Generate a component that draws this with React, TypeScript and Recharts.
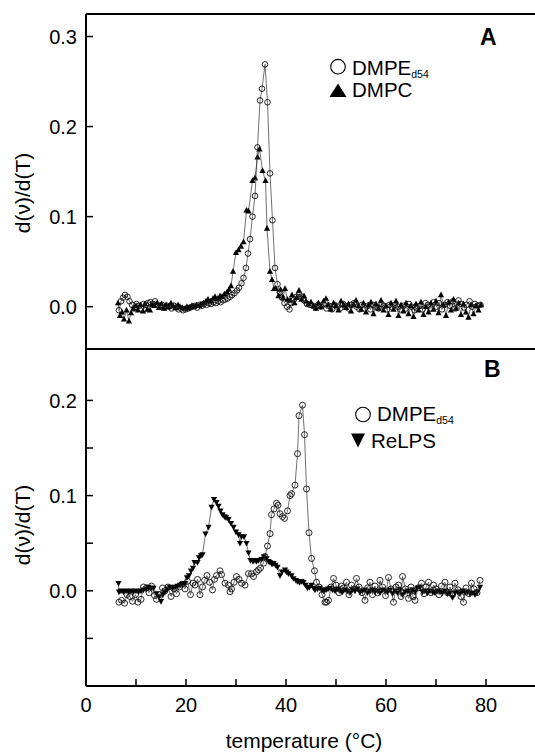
import React from 'react';
import { ScatterChart, Scatter, XAxis, YAxis } from 'recharts';

// temperature (°C), d(v)/d(T)
const dmpeA: [number, number][] = [
  [6.6,-0.004],[7.0,0.006],[7.4,0.010],[7.8,0.013],[8.3,0.011],[8.7,0.006],[9.2,0.002],[9.6,-0.002],[10.1,0.003],[10.6,0.001],
  [11.0,-0.002],[11.5,0.003],[12.0,0.002],[12.4,0.004],[12.9,0.005],[13.4,0.003],[13.8,0.006],[14.3,0.002],[14.8,0.000],[15.2,0.002],
  [15.7,-0.001],[16.2,0.001],[16.6,0.000],[17.1,-0.002],[17.6,0.001],[18.0,-0.001],[18.5,-0.003],[19.0,-0.002],[19.4,-0.004],[19.9,-0.003],
  [20.4,-0.002],[20.8,-0.001],[21.3,0.000],[21.8,0.001],[22.2,-0.001],[22.7,0.002],[23.2,0.001],[23.6,0.003],[24.1,0.002],[24.6,0.004],
  [25.0,0.003],[25.5,0.005],[26.0,0.004],[26.4,0.006],[26.9,0.005],[27.4,0.007],[27.8,0.008],[28.3,0.009],[28.8,0.011],[29.2,0.013],
  [29.7,0.015],[30.2,0.018],[30.6,0.021],[31.1,0.026],[31.5,0.032],[32.0,0.043],[32.4,0.059],[32.8,0.075],[33.3,0.100],[33.8,0.123],
  [34.3,0.177],[34.8,0.229],[35.2,0.242],[35.8,0.269],[36.3,0.227],[36.8,0.148],[37.3,0.096],[37.8,0.043],[38.3,0.025],[38.8,0.016],
  [39.2,0.010],[39.7,0.004],[40.2,0.000],[40.7,-0.003],[41.1,0.004],[41.6,0.008],[42.1,0.011],[42.6,0.014],[43.1,0.011],[43.6,0.007],
  [44.2,0.003],[44.8,0.002],[45.3,0.001],[45.9,-0.001],[46.4,0.002],[47.0,0.000],[47.5,0.003],[48.1,-0.002],[48.6,0.001],[49.2,-0.003],
  [49.7,0.002],[50.3,0.000],[50.8,-0.002],[51.4,0.003],[51.9,0.001],[52.5,-0.002],[53.0,0.002],[53.6,0.004],[54.1,0.000],[54.7,-0.003],
  [55.2,0.002],[55.8,-0.002],[56.3,0.001],[56.9,-0.003],[57.4,0.002],[58.0,0.000],[58.5,-0.002],[59.1,0.003],[59.6,0.001],[60.2,-0.003],
  [60.7,0.002],[61.3,-0.001],[61.8,0.002],[62.4,0.000],[62.9,-0.003],[63.5,0.001],[64.0,-0.002],[64.6,0.003],[65.1,0.000],[65.7,-0.004],
  [66.2,-0.002],[66.8,0.001],[67.3,-0.003],[67.9,0.004],[68.4,0.002],[69.0,-0.002],[69.5,0.005],[70.1,0.000],[70.6,0.004],[71.2,-0.003],
  [71.7,0.002],[72.3,0.005],[72.8,0.001],[73.4,0.006],[73.9,-0.002],[74.5,0.007],[75.0,0.003],[75.6,-0.001],[76.1,0.002],[76.7,0.006],
  [77.2,0.000],[77.8,0.003],[78.3,0.001],[78.9,0.002],
];

const dmpcA: [number, number][] = [
  [6.4,0.004],[6.8,-0.010],[7.2,-0.006],[7.6,-0.014],[8.1,-0.004],[8.6,-0.016],[9.0,-0.007],[9.5,-0.002],[10.0,0.001],[10.4,-0.004],
  [10.9,0.002],[11.4,-0.005],[11.8,0.003],[12.3,-0.003],[12.8,-0.004],[13.2,0.002],[13.7,0.001],[14.2,0.004],[14.6,-0.001],[15.1,0.003],
  [15.6,-0.002],[16.0,0.002],[16.5,0.000],[17.0,0.004],[17.4,0.001],[17.9,-0.001],[18.4,0.002],[18.8,0.000],[19.3,-0.001],[19.8,-0.002],
  [20.2,0.000],[20.7,-0.001],[21.2,0.001],[21.6,0.000],[22.1,0.002],[22.6,0.001],[23.0,0.003],[23.5,0.004],[24.0,0.006],[24.4,0.008],
  [24.9,0.006],[25.4,0.009],[25.8,0.011],[26.3,0.009],[26.8,0.012],[27.2,0.011],[27.7,0.014],[28.2,0.016],[28.6,0.019],[29.0,0.023],
  [29.4,0.039],[30.0,0.060],[30.5,0.063],[31.0,0.067],[31.5,0.072],[32.1,0.107],[32.5,0.106],[33.3,0.140],[33.8,0.143],[34.3,0.166],
  [34.7,0.175],[35.3,0.151],[35.9,0.140],[36.2,0.087],[36.8,0.039],[37.2,0.030],[37.6,0.020],[38.0,0.020],[38.5,0.012],[38.9,0.019],
  [39.4,0.010],[39.8,0.020],[40.3,0.008],[40.8,0.007],[41.2,0.013],[41.7,0.004],[42.1,0.010],[42.6,0.018],[43.1,0.008],[43.6,0.012],
  [44.0,0.006],[44.5,0.003],[45.0,0.005],[45.5,0.001],[46.0,-0.002],[46.5,0.004],[47.0,0.000],[47.5,0.006],[48.0,0.009],[48.5,0.002],
  [49.0,-0.003],[49.5,0.004],[50.0,0.001],[50.5,-0.004],[51.0,0.006],[51.5,0.002],[52.0,-0.001],[52.5,0.003],[53.0,-0.005],[53.5,0.002],
  [54.0,0.007],[54.5,0.001],[55.0,-0.003],[55.5,0.004],[56.0,-0.006],[56.5,0.002],[57.0,0.005],[57.5,-0.008],[58.0,0.003],[58.5,-0.002],
  [59.0,0.007],[59.5,-0.004],[60.0,0.001],[60.5,-0.009],[61.0,0.004],[61.5,-0.003],[62.0,0.006],[62.5,-0.010],[63.0,0.002],[63.5,-0.005],
  [64.0,0.004],[64.5,-0.008],[65.0,0.001],[65.5,-0.011],[66.0,0.003],[66.5,-0.004],[67.0,0.005],[67.5,-0.009],[68.0,0.000],[68.5,-0.006],
  [69.0,0.004],[69.5,-0.003],[70.0,0.006],[70.5,-0.007],[71.0,0.013],[71.5,0.002],[72.0,-0.010],[72.5,0.005],[73.0,-0.004],[73.5,0.008],
  [74.0,-0.002],[74.5,0.004],[75.0,-0.009],[75.5,0.003],[76.0,-0.006],[76.5,-0.012],[77.0,0.002],[77.5,-0.008],[78.0,0.001],[78.5,-0.004],
  [79.0,0.002],
];

const dmpeB: [number, number][] = [
  [6.6,-0.012],[7.1,-0.010],[7.7,-0.013],[8.2,-0.004],[8.8,-0.006],[9.3,-0.011],[9.9,-0.004],[10.4,-0.012],[11.0,-0.009],[11.5,0.004],
  [12.1,0.003],[12.6,-0.002],[13.1,0.005],[13.7,-0.005],[14.1,-0.009],[14.7,-0.004],[15.3,0.003],[15.8,0.000],[16.4,0.004],[17.0,-0.006],
  [17.6,0.002],[18.1,-0.003],[18.7,0.004],[19.2,0.007],[19.8,0.002],[20.3,0.010],[20.9,-0.004],[21.4,0.008],[21.8,0.006],[22.3,0.012],
  [22.8,-0.004],[23.3,0.004],[23.7,0.011],[24.2,0.016],[24.7,0.009],[25.3,0.001],[25.7,0.012],[26.1,0.016],[26.8,0.021],[27.1,0.017],
  [27.8,0.008],[28.5,0.006],[28.8,-0.001],[29.1,0.002],[29.6,0.009],[30.1,0.015],[30.6,0.012],[31.1,0.008],[31.8,0.006],[32.5,0.018],
  [33.1,0.018],[33.5,0.015],[34.1,0.020],[34.5,0.022],[34.9,0.024],[35.5,0.029],[35.8,0.036],[36.3,0.047],[36.8,0.060],[37.1,0.080],
  [37.6,0.086],[38.1,0.092],[38.4,0.090],[38.8,0.081],[39.3,0.078],[39.7,0.076],[40.3,0.084],[40.8,0.100],[41.1,0.102],[41.8,0.111],
  [42.3,0.144],[42.6,0.184],[43.3,0.195],[43.7,0.164],[44.1,0.107],[44.6,0.061],[45.1,0.034],[45.7,0.021],[46.1,0.009],[46.6,0.004],
  [47.2,-0.004],[47.8,-0.012],[48.1,-0.012],[48.5,-0.010],[49.0,0.004],[49.5,0.013],[50.0,0.006],[50.6,-0.002],[51.1,0.005],[51.5,0.003],
  [52.1,0.009],[52.6,-0.004],[53.1,0.006],[53.6,0.002],[54.1,0.013],[54.6,0.004],[55.2,-0.002],[55.8,-0.010],[56.3,0.003],[56.8,0.009],
  [57.3,-0.004],[57.8,0.005],[58.3,-0.002],[58.8,0.011],[59.3,0.004],[59.9,-0.005],[60.5,0.014],[61.0,0.002],[61.5,-0.012],[62.0,0.004],
  [62.5,0.006],[63.0,-0.006],[63.3,0.015],[63.9,0.002],[64.5,-0.008],[65.0,0.004],[65.4,-0.006],[65.8,-0.010],[66.4,0.003],[67.1,0.008],
  [67.6,-0.003],[68.0,0.004],[68.5,0.009],[69.0,-0.002],[69.5,0.006],[70.0,0.002],[70.6,-0.004],[71.1,0.005],[71.8,0.009],[72.3,-0.002],
  [72.8,0.004],[73.3,-0.004],[73.8,0.008],[74.4,0.001],[75.0,-0.006],[75.5,-0.012],[76.0,0.003],[76.6,-0.003],[77.1,0.008],[77.6,0.002],
  [78.2,-0.002],[78.8,0.011],
];

const reLPS: [number, number][] = [
  [6.5,0.008],[6.6,-0.001],[7.0,0.000],[7.5,-0.001],[8.0,0.000],[8.5,-0.001],[9.0,0.000],[9.5,-0.001],[10.0,0.000],[10.5,-0.001],
  [11.0,0.000],[11.5,0.001],[12.0,0.002],[12.5,0.004],[13.0,0.003],[13.5,0.003],[14.1,-0.003],[14.6,-0.006],[15.0,-0.011],[15.4,-0.004],
  [15.8,-0.001],[16.3,0.002],[16.8,0.004],[17.3,0.003],[17.8,0.004],[18.3,0.005],[18.8,0.006],[19.3,0.007],[19.8,0.008],[20.2,0.014],
  [20.6,0.016],[21.0,0.021],[21.4,0.024],[21.7,0.030],[22.3,0.030],[22.6,0.035],[23.0,0.037],[23.3,0.038],[23.9,0.060],[24.5,0.067],
  [25.1,0.088],[25.6,0.096],[26.1,0.093],[26.5,0.089],[26.9,0.084],[27.3,0.080],[27.7,0.078],[28.0,0.077],[28.5,0.075],[29.0,0.071],
  [29.5,0.067],[30.0,0.062],[30.5,0.059],[30.8,0.050],[31.1,0.057],[31.6,0.057],[32.1,0.050],[32.5,0.040],[32.9,0.032],[33.4,0.031],
  [33.8,0.032],[34.1,0.031],[34.5,0.032],[35.1,0.033],[35.6,0.036],[36.1,0.034],[36.5,0.031],[36.8,0.030],[37.2,0.028],[37.5,0.029],
  [37.9,0.027],[38.3,0.025],[38.8,0.016],[39.2,0.020],[39.8,0.022],[40.1,0.020],[40.5,0.018],[41.1,0.016],[41.5,0.013],[42.0,0.011],
  [42.3,0.010],[42.7,0.009],[43.1,0.010],[43.5,0.009],[43.9,0.006],[44.3,0.003],[44.7,0.004],[45.1,0.006],[45.5,0.003],[45.8,0.001],
  [46.3,0.002],[46.8,0.003],[47.2,0.001],[47.5,0.000],[48.0,0.001],[48.4,0.002],[48.8,0.003],[49.3,0.001],[49.8,0.000],[50.3,0.002],
  [50.8,0.000],[51.3,-0.001],[51.8,0.001],[52.3,0.000],[52.8,-0.002],[53.3,0.001],[53.8,0.000],[54.3,0.002],[54.8,-0.001],[55.3,0.000],
  [55.8,0.001],[56.3,-0.002],[56.8,0.000],[57.3,0.001],[57.8,-0.001],[58.3,0.000],[58.8,-0.002],[59.3,0.001],[59.8,0.000],[60.3,-0.001],
  [60.8,0.001],[61.3,-0.003],[61.8,0.000],[62.3,-0.002],[62.8,0.001],[63.3,-0.004],[63.8,-0.001],[64.3,0.000],[64.8,-0.002],[65.3,0.001],
  [65.8,-0.001],[66.3,0.003],[66.8,0.004],[67.3,-0.001],[67.8,0.000],[68.3,-0.002],[68.8,0.000],[69.3,-0.001],[69.8,-0.002],[70.3,0.000],
  [70.8,-0.001],[71.3,-0.002],[71.8,0.000],[72.3,-0.003],[72.8,-0.002],[73.3,-0.007],[73.8,-0.002],[74.3,-0.001],[74.8,-0.003],[75.3,0.000],
  [75.8,-0.002],[76.3,-0.001],[76.8,-0.003],[77.3,-0.002],[77.8,-0.004],[78.3,-0.001],[78.8,0.004],
];

const xTicks = [0, 10, 20, 30, 40, 50, 60, 70, 80];
const yTicksA = [0, 0.1, 0.2, 0.3];
const yTicksB = [-0.05, 0, 0.05, 0.1, 0.15, 0.2];
const labelTicksB = [0, 0.1, 0.2];

const FONT = '"Liberation Sans", Arial, Helvetica, sans-serif';

const pts = (arr: [number, number][]) => arr.map(([t, v]) => ({ t, v }));

const OpenCircle = (r: number) => (p: any) => (
  <circle cx={p.cx} cy={p.cy} r={r} fill="none" stroke="#111" strokeWidth={0.9} />
);
const TriUp = (p: any) => (
  <polygon points={`${p.cx},${p.cy - 3.4} ${p.cx + 3.1},${p.cy + 2.3} ${p.cx - 3.1},${p.cy + 2.3}`} fill="#000" />
);
const TriDown = (p: any) => (
  <polygon points={`${p.cx},${p.cy + 3.4} ${p.cx + 3.1},${p.cy - 2.3} ${p.cx - 3.1},${p.cy - 2.3}`} fill="#000" />
);

const axisLine = { stroke: '#000', strokeWidth: 2 };
const tickLine = { stroke: '#000', strokeWidth: 1.5 };
const tickFont = { fontSize: 20, fill: '#000', fontFamily: FONT };
const lineStyle = { stroke: '#333', strokeWidth: 0.7 };

// axes drawn as a full frame with inward ticks; hidden-label axes get 1px so they still render
function Frame({ yDomain, yTicks, yFmt, bottomLabels }: any) {
  return [
    <XAxis key="xb" xAxisId="x" dataKey="t" type="number" domain={[0, 90]} ticks={xTicks}
      orientation="bottom" height={bottomLabels ? 70 : 1} axisLine={axisLine} tickLine={tickLine}
      tickSize={-7} tickMargin={19} interval={0}
      tick={bottomLabels ? tickFont : false}
      tickFormatter={(v: number) => (v % 20 === 0 ? String(v) : '')} />,
    <XAxis key="xt" xAxisId="top" type="number" domain={[0, 90]} ticks={xTicks}
      orientation="top" height={1} axisLine={axisLine} tickLine={tickLine} tickSize={-7} tick={false} interval={0} />,
    <YAxis key="yl" yAxisId="y" dataKey="v" type="number" domain={yDomain} ticks={yTicks}
      width={86} axisLine={axisLine} tickLine={tickLine} tickSize={-7} tickMargin={16} interval={0}
      tick={tickFont} tickFormatter={yFmt} allowDataOverflow />,
    <YAxis key="yr" yAxisId="right" type="number" domain={yDomain} ticks={yTicks} orientation="right"
      width={1} axisLine={axisLine} tickLine={tickLine} tickSize={-7} tick={false} interval={0} allowDataOverflow />,
  ];
}

export default function App() {
  return (
    <div style={{ position: 'absolute', left: 0, top: 0, width: 535, height: 756, overflow: 'hidden', background: '#fff', fontFamily: FONT }}>
      <div style={{ position: 'absolute', left: 0, top: 0 }}>
        <ScatterChart width={540} height={350} margin={{ top: 13, right: 3, bottom: 0, left: 0 }}>
          {Frame({ yDomain: [-0.047, 0.325], yTicks: yTicksA, yFmt: (v: number) => v.toFixed(1), bottomLabels: false })}
          <Scatter xAxisId="x" yAxisId="y" data={pts(dmpcA)} shape={TriUp} line={lineStyle} isAnimationActive={false} />
          <Scatter xAxisId="x" yAxisId="y" data={pts(dmpeA)} shape={OpenCircle(2.8)} line={lineStyle} isAnimationActive={false} />
        </ScatterChart>
      </div>
      <div style={{ position: 'absolute', left: 0, top: 348 }}>
        <ScatterChart width={540} height={408} margin={{ top: 0, right: 3, bottom: 0, left: 0 }}>
          {Frame({
            yDomain: [-0.1, 0.254], yTicks: yTicksB,
            yFmt: (v: number) => (labelTicksB.some((m) => Math.abs(m - v) < 1e-9) ? v.toFixed(1) : ''),
            bottomLabels: true,
          })}
          <Scatter xAxisId="x" yAxisId="y" data={pts(reLPS)} shape={TriDown} line={lineStyle} isAnimationActive={false} />
          <Scatter xAxisId="x" yAxisId="y" data={pts(dmpeB)} shape={OpenCircle(3)} line={lineStyle} isAnimationActive={false} />
        </ScatterChart>
      </div>
      <svg width={535} height={756} style={{ position: 'absolute', left: 0, top: 0, pointerEvents: 'none' }} fontFamily={FONT} fill="#000">
        <text x={30} y={193} transform="rotate(-90, 30, 193)" textAnchor="middle" fontSize={21}>d(ν)/d(T)</text>
        <text x={30} y={525} transform="rotate(-90, 30, 525)" textAnchor="middle" fontSize={21}>d(ν)/d(T)</text>
        <text x={304} y={748} textAnchor="middle" fontSize={21}>temperature (°C)</text>

        <text x={480} y={45} fontSize={23} fontWeight="bold">A</text>
        <circle cx={338} cy={66.7} r={7.3} fill="none" stroke="#000" strokeWidth={1.1} />
        <text x={352} y={75} fontSize={20.5}>DMPE<tspan fontSize={10.5} dy={2.5} fill="#000">d54</tspan></text>
        <polygon points="338,83.5 346.5,97 329.5,97" fill="#000" />
        <text x={352} y={97} fontSize={20.5}>DMPC</text>

        <text x={484} y={377} fontSize={23} fontWeight="bold">B</text>
        <circle cx={363} cy={414.5} r={7.3} fill="none" stroke="#000" strokeWidth={1.1} />
        <text x={377} y={421} fontSize={20.5}>DMPE<tspan fontSize={10.5} dy={2.5} fill="#000">d54</tspan></text>
        <polygon points="351,433.5 365,433.5 358,447.5" fill="#000" />
        <text x={371} y={448} fontSize={20.5}>ReLPS</text>
      </svg>
    </div>
  );
}
